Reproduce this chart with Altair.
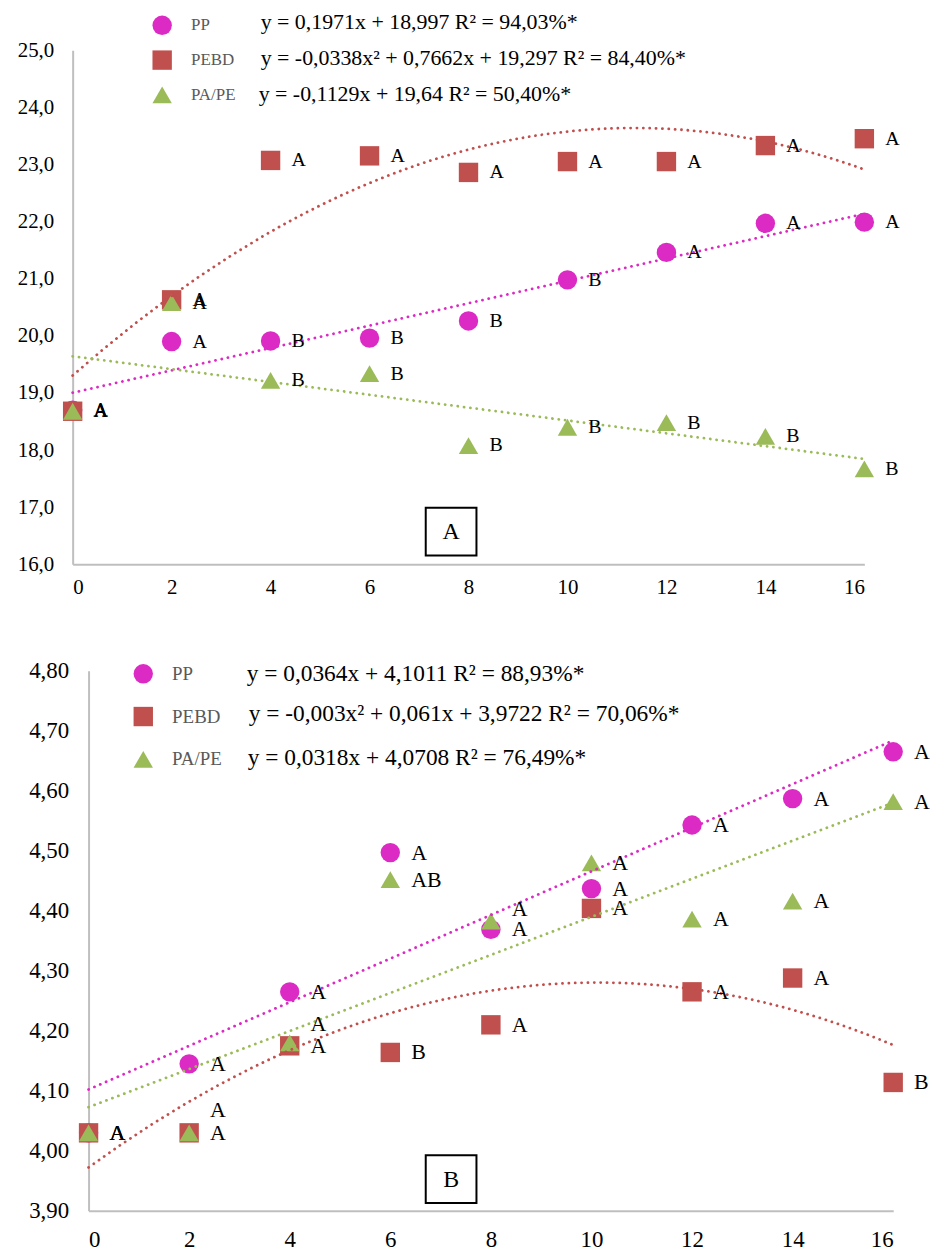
import altair as alt
import pandas as pd

FONT = "Liberation Serif"

x_vals = [0, 2, 4, 6, 8, 10, 12, 14, 16]
series = ["PP", "PEBD", "PA/PE"]
colors = ["#DC2AC4", "#C0504D", "#9BBB59"]
shapes = ["circle", "square", "triangle-up"]

# ---- Panel A values ----
a_pp = [18.70, 19.90, 19.91, 19.96, 20.26, 20.98, 21.46, 21.97, 21.99]
a_pebd = [18.68, 20.63, 23.07, 23.15, 22.86, 23.05, 23.05, 23.33, 23.45]
a_pape = [18.68, 20.58, 19.22, 19.34, 18.08, 18.40, 18.48, 18.24, 17.67]
a_pp_lab = ["A", "A", "B", "B", "B", "B", "A", "A", "A"]
a_pebd_lab = ["A", "A", "A", "A", "A", "A", "A", "A", "A"]
a_pape_lab = ["A", "A", "B", "B", "B", "B", "B", "B", "B"]
a_eqs = ["y = 0,1971x + 18,997 R\u00b2 = 94,03%*",
         "y = -0,0338x\u00b2 + 0,7662x + 19,297 R\u00b2 = 84,40%*",
         "y = -0,1129x + 19,64 R\u00b2 = 50,40%*"]
a_yticks = [16, 17, 18, 19, 20, 21, 22, 23, 24, 25]

# ---- Panel B values ----
b_pp = [4.03, 4.145, 4.265, 4.497, 4.369, 4.437, 4.543, 4.587, 4.665]
b_pebd = [4.03, 4.03, 4.175, 4.164, 4.21, 4.404, 4.265, 4.288, 4.114]
b_pape = [4.03, 4.03, 4.18, 4.452, 4.383, 4.48, 4.386, 4.416, 4.582]
b_pp_lab = ["A", "A", "A", "A", "A", "A", "A", "A", "A"]
b_pebd_lab = ["A", "A", "A", "B", "A", "A", "A", "A", "B"]
b_pape_lab = ["A", "A", "A", "AB", "A", "A", "A", "A", "A"]
b_eqs = ["y = 0,0364x + 4,1011   R\u00b2 = 88,93%*",
         "y = -0,003x\u00b2 + 0,061x + 3,9722 R\u00b2 = 70,06%*",
         "y = 0,0318x + 4,0708 R\u00b2 = 76,49%*"]
b_yticks = [3.9, 4.0, 4.1, 4.2, 4.3, 4.4, 4.5, 4.6, 4.7, 4.8]

# label nudges (pixels, negative = up) so overlapping letters separate as in the original
zero = [0] * 9
b_pape_nudge = [0, -23, -19, 0, -12, 0, 0, 0, 0]


def make_df(vals, labs, nudges):
    rows = []
    for k, s in enumerate(series):
        for i, xv in enumerate(x_vals):
            rows.append({"series": s, "x": xv, "value": vals[k][i],
                         "label": labs[k][i], "dy": nudges[k][i]})
    return pd.DataFrame(rows)


df_a = make_df([a_pp, a_pebd, a_pape], [a_pp_lab, a_pebd_lab, a_pape_lab], [zero, zero, zero])
df_b = make_df([b_pp, b_pebd, b_pape], [b_pp_lab, b_pebd_lab, b_pape_lab], [zero, zero, b_pape_nudge])


def panel(df, W, H, shift, ydom, yticks, yfmt, tick_fs, lab_fs, eqs, eq_x, eq_y, eq_fs,
          leg_x, leg_y, leg_fs, leg_row, box_letter, box, ypad, xpad, anchor=None):
    xenc = alt.X("x:Q", scale=alt.Scale(domain=[0, 16], range=[-shift, W - shift],
                                        nice=False, zero=False),
                 axis=alt.Axis(values=x_vals, title=None, grid=False, ticks=False,
                               domainColor="#BFBFBF", domainWidth=2, labelFont=FONT,
                               labelFontSize=tick_fs, labelColor="#000000",
                               labelPadding=xpad))
    yenc = alt.Y("value:Q", scale=alt.Scale(domain=ydom, nice=False, zero=False),
                 axis=alt.Axis(values=yticks, title=None, grid=False, ticks=False,
                               domainColor="#BFBFBF", domainWidth=2, labelFont=FONT,
                               labelFontSize=tick_fs, labelColor="#000000",
                               labelPadding=ypad, offset=shift,
                               labelExpr="replace(format(datum.value, '%s'), '.', ',')" % yfmt))
    leg = alt.Legend(orient="none", legendX=leg_x, legendY=leg_y, title=None,
                     labelFont=FONT, labelFontSize=leg_fs, labelColor="#595959",
                     symbolSize=380, rowPadding=leg_row, labelOffset=19, padding=0,
                     symbolOpacity=1, symbolStrokeWidth=0)
    color = alt.Color("series:N", scale=alt.Scale(domain=series, range=colors), legend=leg)
    shape = alt.Shape("series:N", scale=alt.Scale(domain=series, range=shapes), legend=leg)

    base = alt.Chart(df)
    points = base.mark_point(filled=True, opacity=1, size=380, strokeWidth=0).encode(
        x=xenc, y=yenc, color=color, shape=shape)

    def trend(name, col, method):
        kw = {"method": method}
        if method == "poly":
            kw["order"] = 2
        return (base.transform_filter(alt.datum.series == name)
                .transform_regression("x", "value", **kw)
                .mark_line(strokeDash=[0.1, 6.3], strokeWidth=2.8, strokeCap="round",
                           color=col)
                .encode(x="x:Q", y="value:Q"))

    lines = [trend("PP", colors[0], "linear"), trend("PEBD", colors[1], "poly"),
             trend("PA/PE", colors[2], "linear")]

    per_px = (ydom[1] - ydom[0]) / H
    labels = base.transform_calculate(
        ly="datum.value - datum.dy * %f" % per_px
    ).mark_text(align="left", baseline="middle", dx=21, font=FONT,
                fontSize=lab_fs, color="#000000").encode(
        x="x:Q", y="ly:Q", text="label:N")

    eq_layers = []
    for t, ex, ey in zip(eqs, eq_x, eq_y):
        eq_layers.append(alt.Chart(pd.DataFrame({"t": [t]})).mark_text(
            align="left", baseline="middle", font=FONT, fontSize=eq_fs, color="#000000"
        ).encode(x=alt.value(ex), y=alt.value(ey), text="t:N"))

    bdf = pd.DataFrame({"t": [box_letter]})
    rect = alt.Chart(bdf).mark_rect(fill="white", stroke="black", strokeWidth=2).encode(
        x=alt.value(box[0]), x2=alt.value(box[1]), y=alt.value(box[2]), y2=alt.value(box[3]))
    btxt = alt.Chart(bdf).mark_text(font=FONT, fontSize=24, color="#000000",
                                    align="center", baseline="middle").encode(
        x=alt.value((box[0] + box[1]) / 2), y=alt.value((box[2] + box[3]) / 2 + 1), text="t:N")

    layers = [rect, btxt, points, *lines, labels, *eq_layers]
    if anchor is not None:
        layers.append(alt.Chart(bdf).mark_rule(opacity=0, strokeOpacity=0).encode(
            x=alt.value(anchor), x2=alt.value(anchor + 1), y=alt.value(0), y2=alt.value(1)))
    return alt.layer(*layers).properties(width=W, height=H)


top = panel(df_a, 796, 517, 16, [16, 25], a_yticks, ".1f", 21, 20, a_eqs,
            [173, 173, 171], [-28, 8, 44], 22,
            64, -35, 17, 15, "A", [339, 390, 460, 508], 19, 12)
bottom = panel(df_b, 809, 543, 0, [3.9, 4.8], b_yticks, ".2f", 23, 22, b_eqs,
               [159, 161, 160], [3, 43, 88], 23.5,
               45, -7, 19, 23, "B", [339, 390, 487, 535], 20, 18, anchor=-81)

chart = alt.vconcat(top, bottom, spacing=63).resolve_scale(
    color="independent", shape="independent").resolve_legend(
    color="independent", shape="independent").properties(padding=0).configure_view(
    stroke=None).configure_axis(labelFont=FONT)

chart.save("out.html", embed_options={"renderer": "svg", "actions": False})
